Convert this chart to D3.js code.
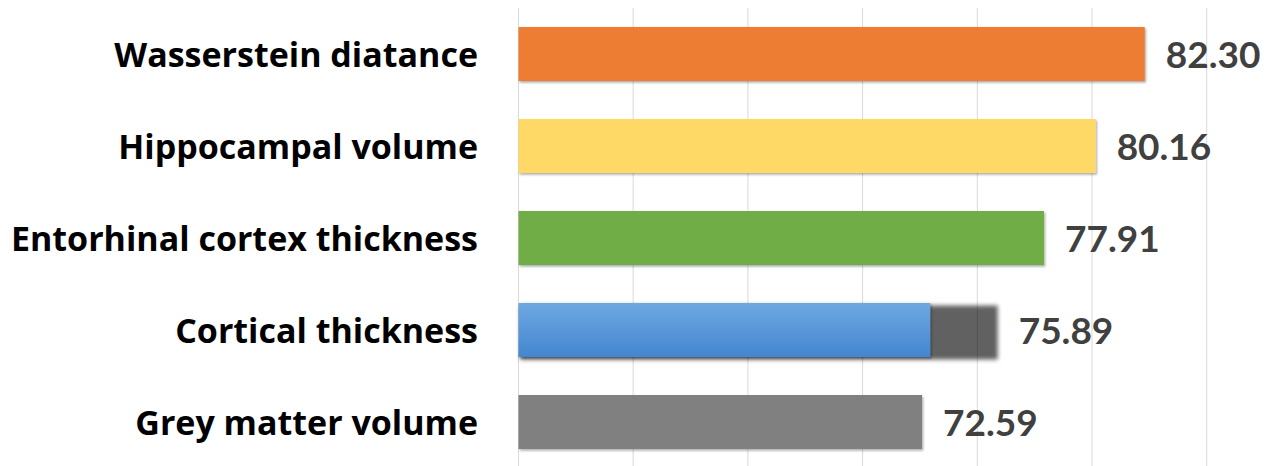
<!DOCTYPE html>
<html>
<head>
<meta charset="utf-8">
<script src="https://cdn.jsdelivr.net/npm/d3@7/dist/d3.min.js"></script>
<style>
  html, body { margin: 0; padding: 0; background: #ffffff; }
  svg { display: block; }
</style>
</head>
<body>
<svg id="chart" width="1277" height="466"></svg>
<script>
// Feature categories, top to bottom
const categories = [
  "Wasserstein diatance",
  "Hippocampal volume",
  "Entorhinal cortex thickness",
  "Cortical thickness",
  "Grey matter volume"
];
// Score for each feature
const scores = [82.30, 80.16, 77.91, 75.89, 72.59];
// Value-axis gridline positions
const gridTicks = [55, 60, 65, 70, 75, 80, 85];
// The cortical-thickness bar is only partly filled in blue; the rest shows its dark shadow
const cortexFillTo = 72.95;

const colors = ["#ED7D31", "#FFD966", "#70AD47", "url(#blueGrad)", "#808080"];

const svg = d3.select("#chart");
const W = 1277, H = 466;

const x = d3.scaleLinear().domain([55, 85]).range([518.5, 1206.7]);
const y = d3.scaleBand().domain(categories).range([8, 468])
  .paddingInner(0.413).paddingOuter(0.2065);

const defs = svg.append("defs");
const grad = defs.append("linearGradient").attr("id", "blueGrad")
  .attr("x1", 0).attr("y1", 0).attr("x2", 0).attr("y2", 1);
grad.append("stop").attr("offset", "0%").attr("stop-color", "#6EA8E1");
grad.append("stop").attr("offset", "100%").attr("stop-color", "#4386CF");

const drop = defs.append("filter").attr("id", "barShadow")
  .attr("x", "-5%").attr("y", "-20%").attr("width", "110%").attr("height", "150%");
drop.append("feDropShadow").attr("dx", 1.2).attr("dy", 1.6)
  .attr("stdDeviation", 1.3).attr("flood-color", "#000").attr("flood-opacity", 0.35);

const blur = defs.append("filter").attr("id", "softBlur")
  .attr("x", "-10%").attr("y", "-30%").attr("width", "120%").attr("height", "160%");
blur.append("feGaussianBlur").attr("stdDeviation", 2.2);

// Vertical gridlines
svg.append("g").selectAll("line").data(gridTicks).join("line")
  .attr("x1", d => x(d)).attr("x2", d => x(d))
  .attr("y1", 8).attr("y2", H)
  .attr("stroke", "#d9d9d9").attr("stroke-width", 1);

// Bars
const bars = svg.append("g");
categories.forEach((c, i) => {
  const v = scores[i];
  if (c === "Cortical thickness") {
    bars.append("rect")
      .attr("x", x(55) + 2).attr("y", y(c) + 2.5)
      .attr("width", x(v) - x(55) - 2).attr("height", y.bandwidth())
      .attr("fill", "#000").attr("fill-opacity", 0.62)
      .attr("filter", "url(#softBlur)");
    bars.append("rect")
      .attr("x", x(55)).attr("y", y(c))
      .attr("width", x(cortexFillTo) - x(55)).attr("height", y.bandwidth())
      .attr("fill", colors[i]).attr("filter", "url(#barShadow)");
  } else {
    bars.append("rect")
      .attr("x", x(55)).attr("y", y(c))
      .attr("width", x(v) - x(55)).attr("height", y.bandwidth())
      .attr("fill", colors[i]).attr("filter", "url(#barShadow)");
  }
});

// Category labels
svg.append("g").selectAll("text").data(categories).join("text")
  .attr("x", 478)
  .attr("y", d => y(d) + y.bandwidth() / 2 + 12.5)
  .attr("text-anchor", "end")
  .attr("font-family", "'Open Sans', sans-serif")
  .attr("font-weight", 700)
  .attr("font-size", 34)
  .attr("fill", "#000")
  .text(d => d);

// Value labels
svg.append("g").selectAll("text").data(categories).join("text")
  .attr("x", (d, i) => x(scores[i]) + 21)
  .attr("y", d => y(d) + y.bandwidth() / 2 + 13.5)
  .attr("font-family", "Lato, sans-serif")
  .attr("font-weight", 700)
  .attr("font-size", 37)
  .attr("fill", "#404040")
  .text((d, i) => scores[i].toFixed(2));
</script>
</body>
</html>
